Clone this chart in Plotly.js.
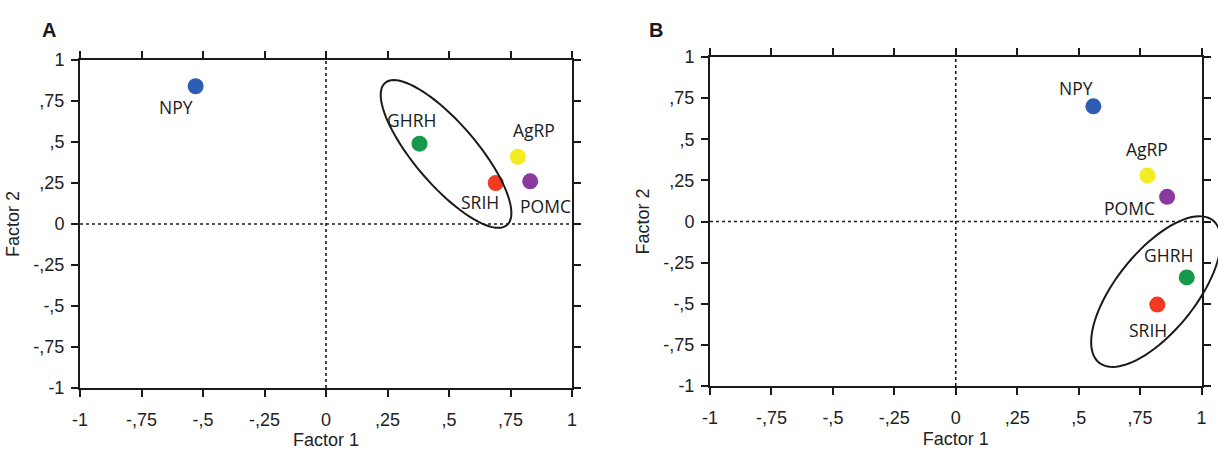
<!DOCTYPE html>
<html>
<head>
<meta charset="utf-8">
<script src="https://cdn.plot.ly/plotly-3.0.1.min.js"></script>
<style>html,body{margin:0;padding:0;background:#fff;}#chart{width:1218px;height:450px;}</style>
</head>
<body>
<div id="chart"></div>
<script>
// ---- data ----
const genes = ['NPY', 'GHRH', 'AgRP', 'SRIH', 'POMC'];
const factor1A = [-0.53, 0.38, 0.78, 0.69, 0.83];
const factor2A = [0.84, 0.49, 0.41, 0.25, 0.26];
const factor1B = [0.56, 0.94, 0.78, 0.82, 0.86];
const factor2B = [0.70, -0.34, 0.28, -0.505, 0.15];
const tickVals = [-1, -0.75, -0.5, -0.25, 0, 0.25, 0.5, 0.75, 1];
const tickText = ['-1', '-,75', '-,5', '-,25', '0', ',25', ',5', ',75', '1'];
const panelLetters = ['A', 'B'];
const axisTitles = ['Factor 1', 'Factor 2'];

// ---- styles ----
const geneColors = ['#2d5cb5', '#14984a', '#f2ec20', '#f23a22', '#8a3a9e'];
// label offsets in px (dx right, dy up)
const labelOffA = [[-20, -21], [-8, 24], [16, 27], [-16, -19], [15, -25]];
const labelOffB = [[-17, 18], [-18, 22], [0, 26], [-9, -25], [-38, -11]];
// ellipse geometry in data units: center, semi-axis vector u, semi-axis vector v
const ellA = {c: [0.488, 0.427], u: [0.248, -0.433], v: [0.095, 0.124]};
const ellB = {c: [0.815, -0.426], u: [0.232, 0.432], v: [0.126, -0.152]};

const W = 1218, H = 450;
const domXA = [80 / W, 572 / W], domYA = [(H - 388) / H, (H - 60) / H];
const domXB = [710 / W, 1201.5 / W], domYB = [(H - 386) / H, (H - 57) / H];

const FONT = 'Liberation Sans, Arial, sans-serif';
const LBLFONT = 'Open Sans, Noto Sans, sans-serif';
const INK = '#1a1a1a';

function axisBase(domain, anchor, title, isY) {
  return {
    domain: domain, anchor: anchor, range: [-1, 1],
    tickmode: 'array', tickvals: tickVals, ticktext: tickText,
    ticks: 'outside', ticklen: 7, tickwidth: 2, tickcolor: INK,
    ticklabelstandoff: isY ? 3 : 7,
    showline: true, linecolor: INK, linewidth: 2, mirror: 'ticks',
    showgrid: false, zeroline: false, fixedrange: true,
    tickfont: {family: FONT, size: 18, color: '#222'},
    title: {text: title, font: {family: FONT, size: 18, color: '#222'}, standoff: isY ? 9 : 6}
  };
}

function scatter(xs, ys, xa, ya) {
  return {
    type: 'scatter', mode: 'markers', x: xs, y: ys, xaxis: xa, yaxis: ya,
    text: genes, hoverinfo: 'text',
    marker: {size: 16, color: geneColors, line: {width: 0}},
    cliponaxis: false, showlegend: false
  };
}

function toPaper(x, y, dx, dy) {
  return [dx[0] + (x + 1) / 2 * (dx[1] - dx[0]), dy[0] + (y + 1) / 2 * (dy[1] - dy[0])];
}

function ellipsePath(e, dx, dy) {
  let p = '';
  const n = 90;
  for (let i = 0; i <= n; i++) {
    const t = 2 * Math.PI * i / n;
    const x = e.c[0] + e.u[0] * Math.cos(t) + e.v[0] * Math.sin(t);
    const y = e.c[1] + e.u[1] * Math.cos(t) + e.v[1] * Math.sin(t);
    const q = toPaper(x, y, dx, dy);
    p += (i === 0 ? 'M' : 'L') + q[0].toFixed(5) + ',' + q[1].toFixed(5);
  }
  return p + 'Z';
}

function crossLines(xa, ya) {
  const line = {color: INK, width: 1.6, dash: 'dot'};
  return [
    {type: 'line', xref: xa, yref: ya, x0: 0, x1: 0, y0: -1, y1: 1, line: line, layer: 'below'},
    {type: 'line', xref: xa, yref: ya, x0: -1, x1: 1, y0: 0, y1: 0, line: line, layer: 'below'}
  ];
}

function labels(xs, ys, offs, xa, ya) {
  return genes.map((g, i) => ({
    x: xs[i], y: ys[i], xref: xa, yref: ya, text: g, showarrow: false,
    xshift: offs[i][0], yshift: offs[i][1],
    font: {family: LBLFONT, size: 17.5, color: '#1a1a1a'}
  }));
}

const data = [
  scatter(factor1A, factor2A, 'x', 'y'),
  scatter(factor1B, factor2B, 'x2', 'y2')
];

const layout = {
  width: W, height: H,
  margin: {l: 0, r: 0, t: 0, b: 0},
  paper_bgcolor: '#fff', plot_bgcolor: '#fff',
  showlegend: false,
  xaxis: axisBase(domXA, 'y', axisTitles[0], false),
  yaxis: axisBase(domYA, 'x', axisTitles[1], true),
  xaxis2: axisBase(domXB, 'y2', axisTitles[0], false),
  yaxis2: axisBase(domYB, 'x2', axisTitles[1], true),
  shapes: [
    ...crossLines('x', 'y'),
    ...crossLines('x2', 'y2'),
    {type: 'path', xref: 'paper', yref: 'paper', path: ellipsePath(ellA, domXA, domYA),
     line: {color: INK, width: 2}, fillcolor: 'rgba(0,0,0,0)'},
    {type: 'path', xref: 'paper', yref: 'paper', path: ellipsePath(ellB, domXB, domYB),
     line: {color: INK, width: 2}, fillcolor: 'rgba(0,0,0,0)'}
  ],
  annotations: [
    ...labels(factor1A, factor2A, labelOffA, 'x', 'y'),
    ...labels(factor1B, factor2B, labelOffB, 'x2', 'y2'),
    {xref: 'paper', yref: 'paper', x: 40 / W, y: 1 - 17 / H, text: '<b>' + panelLetters[0] + '</b>',
     showarrow: false, font: {family: FONT, size: 20, color: INK}},
    {xref: 'paper', yref: 'paper', x: 656 / W, y: 1 - 17 / H, text: '<b>' + panelLetters[1] + '</b>',
     showarrow: false, font: {family: FONT, size: 20, color: INK}}
  ]
};

Plotly.newPlot('chart', data, layout, {displayModeBar: false, staticPlot: true});
</script>
</body>
</html>
